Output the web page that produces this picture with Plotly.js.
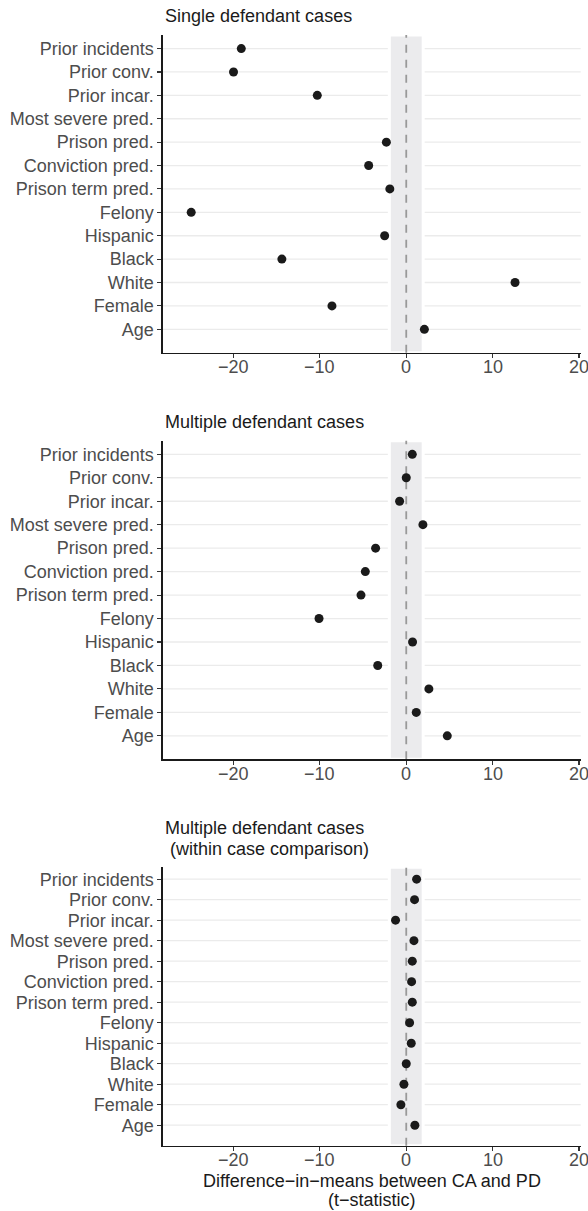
<!DOCTYPE html>
<html>
<head>
<meta charset="utf-8">
<script src="https://cdn.plot.ly/plotly-3.0.1.min.js"></script>
<style>html,body{margin:0;padding:0;background:#fff;}#chart{width:588px;height:1211px;}</style>
</head>
<body>
<div id="chart"></div>
<script>
const covariates = ["Prior incidents","Prior conv.","Prior incar.","Most severe pred.","Prison pred.","Conviction pred.","Prison term pred.","Felony","Hispanic","Black","White","Female","Age"];
const singleCases = [-19.1, -20.0, -10.3, null, -2.3, -4.35, -1.9, -24.9, -2.5, -14.4, 12.6, -8.6, 2.1];
const multipleCases = [0.7, 0.0, -0.77, 1.93, -3.55, -4.74, -5.24, -10.1, 0.73, -3.3, 2.62, 1.16, 4.75];
const withinCase = [1.2, 0.96, -1.24, 0.89, 0.7, 0.62, 0.7, 0.39, 0.58, 0.0, -0.27, -0.62, 1.0];
const panelTitles = [["Single defendant cases"], ["Multiple defendant cases"], ["Multiple defendant cases", " (within case comparison)"]];
const xTicks = [-20, -10, 0, 10, 20];
const xTitle = ["Difference\u2212in\u2212means between CA and PD", "(t\u2212statistic)"];
const critical = 1.96;

const W = 588, H = 1211;
const FONT = "Liberation Sans, Arial, Helvetica, sans-serif";
const xDom = [162.7 / W, 580.7 / W];
const panels = [
  {top: 35, bottom: 352.7, data: singleCases},
  {top: 440.7, bottom: 759.3, data: multipleCases},
  {top: 867.3, bottom: 1145.7, data: withinCase}
];
const yf = p => 1 - p / H;
const fmt = v => (v < 0 ? "\u2212" + Math.abs(v) : String(v));

const traces = [];
const layout = {
  width: W, height: H,
  margin: {l: 0, r: 0, t: 0, b: 0},
  paper_bgcolor: "#fff", plot_bgcolor: "#fff",
  showlegend: false,
  font: {family: FONT, size: 18, color: "#4d4d4d"},
  shapes: [], annotations: []
};

panels.forEach((p, i) => {
  const n = i === 0 ? "" : String(i + 1);
  traces.push({
    type: "scatter", mode: "markers",
    x: p.data, y: covariates,
    xaxis: "x" + n, yaxis: "y" + n,
    marker: {size: 9, color: "#1a1a1a"},
    hoverinfo: "skip", cliponaxis: false
  });
  layout["xaxis" + n] = {
    domain: xDom, anchor: "y" + n,
    range: [-28.2, 20.2],
    tickmode: "array", tickvals: xTicks,
    showticklabels: false,
    showgrid: false, zeroline: false,
    showline: true, linecolor: "#1a1a1a", linewidth: 1.3,
    ticks: "outside", ticklen: 4, tickwidth: 1.1, tickcolor: "#333",
    fixedrange: true
  };
  layout["yaxis" + n] = {
    domain: [yf(p.bottom), yf(p.top)], anchor: "x" + n,
    type: "category", categoryorder: "array", categoryarray: covariates,
    range: [13.0, -0.58],
    tickmode: "array", tickvals: covariates, ticktext: covariates,
    showgrid: false, zeroline: false,
    showline: true, linecolor: "#1a1a1a", linewidth: 1.3,
    ticks: "outside", ticklen: 4, tickwidth: 1.1, tickcolor: "#333",
    ticklabeloverflow: "allow",
    tickfont: {family: FONT, size: 18, color: "#4d4d4d"},
    fixedrange: true
  };
  xTicks.forEach(v => {
    layout.annotations.push({
      xref: "x" + n, yref: "paper",
      x: v, y: yf(p.bottom + 14.5),
      xanchor: "center", yanchor: "middle",
      text: fmt(v), showarrow: false,
      font: {family: FONT, size: 18, color: "#4d4d4d"}
    });
  });
  covariates.forEach(c => {
    layout.shapes.push({
      type: "line", xref: "x" + n + " domain", yref: "y" + n,
      x0: 0, x1: 1, y0: c, y1: c,
      line: {color: "#ebebeb", width: 1.3},
      layer: "below"
    });
  });
  layout.shapes.push({
    type: "rect", xref: "x" + n, yref: "y" + n + " domain",
    x0: -critical, x1: critical, y0: 0, y1: 1,
    fillcolor: "#ebebed", line: {color: "#ffffff", width: 3},
    layer: "below"
  });
  layout.shapes.push({
    type: "line", xref: "x" + n, yref: "y" + n + " domain",
    x0: 0, x1: 0, y0: 0, y1: 1,
    line: {color: "#999999", width: 1.8, dash: "8px,7px"},
    layer: "below"
  });
  panelTitles[i].forEach((t, j) => {
    const nLines = panelTitles[i].length;
    const baseline = p.top - 12.4 - (nLines - 1 - j) * 20.5;
    layout.annotations.push({
      xref: "paper", yref: "paper",
      x: 163 / W, y: yf(baseline - 6.3),
      xanchor: "left", yanchor: "middle",
      text: t.replace(/^ /, "\u00a0"), showarrow: false,
      font: {family: FONT, size: 18, color: "#1a1a1a"}
    });
  });
});

xTitle.forEach((t, j) => {
  layout.annotations.push({
    xref: "paper", yref: "paper",
    x: 371.5 / W, y: yf([1180.5, 1200][j]),
    xanchor: "center", yanchor: "middle",
    text: t, showarrow: false,
    font: {family: FONT, size: 18, color: "#1a1a1a"}
  });
});

Plotly.newPlot("chart", traces, layout, {staticPlot: true, displayModeBar: false});
</script>
</body>
</html>
